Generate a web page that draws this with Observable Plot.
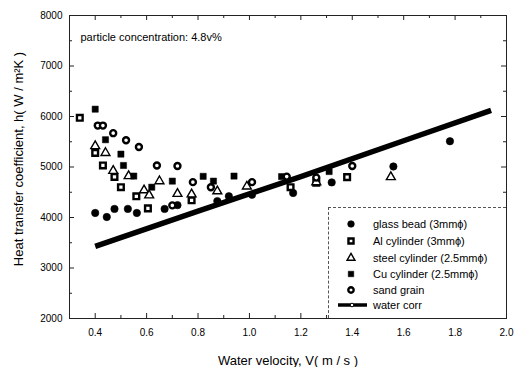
<!DOCTYPE html>
<html><head><meta charset="utf-8">
<script src="https://cdn.jsdelivr.net/npm/d3@7"></script>
<script src="https://cdn.jsdelivr.net/npm/@observablehq/plot@0.6"></script>
<style>
body{margin:0;background:#fff;}
#wrap{position:relative;width:514px;height:367px;font-family:"Liberation Sans",Arial,sans-serif;}
#legend{position:absolute;left:328px;top:207px;width:178px;height:111px;border-top:1px dashed #555;border-left:1px dashed #555;box-sizing:border-box;background:#fff;}
</style></head><body><div id="wrap"><div id="chart"></div><div id="legend"></div></div>
<script>
// ---- data ----
const glassV = [0.40, 0.445, 0.475, 0.527, 0.562, 0.67, 0.72, 0.875, 0.92, 1.01, 1.17, 1.32, 1.56, 1.78];
const glassH = [4090, 4010, 4170, 4170, 4090, 4170, 4245, 4325, 4420, 4450, 4485, 4695, 5010, 5510];
const alV = [0.34, 0.40, 0.43, 0.475, 0.50, 0.56, 0.605, 0.775, 1.16, 1.26, 1.38];
const alH = [5975, 5280, 5030, 4805, 4600, 4420, 4180, 4340, 4600, 4690, 4800];
const steelV = [0.40, 0.44, 0.47, 0.53, 0.59, 0.61, 0.65, 0.72, 0.775, 0.875, 0.99, 1.26, 1.55];
const steelH = [5415, 5280, 4925, 4820, 4540, 4440, 4720, 4470, 4460, 4520, 4615, 4700, 4800];
const cuV = [0.40, 0.44, 0.50, 0.51, 0.55, 0.62, 0.70, 0.82, 0.86, 0.94, 1.125, 1.31];
const cuH = [6145, 5540, 5255, 5030, 4820, 4600, 4720, 4815, 4720, 4820, 4810, 4910];
const sandV = [0.41, 0.43, 0.47, 0.52, 0.57, 0.64, 0.72, 0.70, 0.78, 0.85, 1.01, 1.145, 1.26, 1.40];
const sandH = [5820, 5820, 5670, 5530, 5395, 5030, 5020, 4240, 4700, 4600, 4700, 4810, 4790, 5020];
const waterV = [0.40, 0.80, 1.20, 1.60, 1.94];
const waterH = [3430, 4125, 4810, 5520, 6120];

const seriesNames = ["glass bead (3mm\u03d5)", "Al cylinder (3mm\u03d5)", "steel cylinder (2.5mm\u03d5)", "Cu cylinder (2.5mm\u03d5)", "sand grain", "water corr"];
const xTicks = [0.4, 0.6, 0.8, 1.0, 1.2, 1.4, 1.6, 1.8, 2.0];
const xMinor = [0.3, 0.5, 0.7, 0.9, 1.1, 1.3, 1.5, 1.7, 1.9];
const yTicks = [2000, 3000, 4000, 5000, 6000, 7000, 8000];
const yMinor = [2500, 3500, 4500, 5500, 6500, 7500];
const annotation = "particle concentration: 4.8v%";
const xLabel = "Water velocity, V( m / s )";
const yLabel = "Heat transfer coefficient, h( W / m\u00b2K )";

// ---- styles ----
const styles = [
  {symbol: "circle", fill: "black", stroke: "black", r: 3.7, sw: 0.6},
  {symbol: "square", fill: "white", stroke: "black", r: 3.2, sw: 2.4},
  {symbol: "triangle", fill: "white", stroke: "black", r: 3.3, sw: 1.4},
  {symbol: "square", fill: "black", stroke: "black", r: 3.5, sw: 0.5},
  {symbol: "circle", fill: "white", stroke: "black", r: 3.0, sw: 2.4}
];
const pairs = [[glassV, glassH], [alV, alH], [steelV, steelH], [cuV, cuH], [sandV, sandH]];
const tables = pairs.map(([v, h]) => v.map((x, i) => ({v: x, h: h[i]})));
const water = waterV.map((x, i) => ({v: x, h: waterH[i]}));

const W = 514, H = 367, mL = 69, mR = 8, mT = 15, mB = 49;
const fw = W - mL - mR, fh = H - mT - mB;

const marks = [
  Plot.frame({stroke: "#222", strokeWidth: 1}),
  // inward ticks
  Plot.tickX(xTicks, {x: d => d, insetTop: fh - 5, stroke: "#222"}),
  Plot.tickX(xTicks, {x: d => d, insetBottom: fh - 5, stroke: "#222"}),
  Plot.tickX(xMinor, {x: d => d, insetTop: fh - 3, stroke: "#222"}),
  Plot.tickX(xMinor, {x: d => d, insetBottom: fh - 3, stroke: "#222"}),
  Plot.tickY(yTicks, {y: d => d, insetRight: fw - 5, stroke: "#222"}),
  Plot.tickY(yTicks, {y: d => d, insetLeft: fw - 5, stroke: "#222"}),
  Plot.tickY(yMinor, {y: d => d, insetRight: fw - 3, stroke: "#222"}),
  Plot.tickY(yMinor, {y: d => d, insetLeft: fw - 3, stroke: "#222"}),
  Plot.axisX(xTicks, {tickSize: 0, tickPadding: 10, tickFormat: d => d.toFixed(1), fontSize: 10, label: null}),
  Plot.axisY(yTicks, {tickSize: 0, tickPadding: 7, tickFormat: d => String(d), fontSize: 10, label: null}),
  Plot.line(water, {x: "v", y: "h", stroke: "black", strokeWidth: 5.5, strokeLinecap: "butt"}),
  ...tables.map((t, i) => Plot.dot(t, {x: "v", y: "h", symbol: styles[i].symbol, fill: styles[i].fill, stroke: styles[i].stroke, r: styles[i].r, strokeWidth: styles[i].sw})),
  Plot.text([annotation], {frameAnchor: "top-left", dx: 11, dy: 22, lineAnchor: "middle", textAnchor: "start", fontSize: 11}),
  Plot.text([xLabel], {frameAnchor: "bottom", dy: 42, lineAnchor: "middle", fontSize: 13}),
  Plot.text([yLabel], {frameAnchor: "left", dx: -51, dy: -8, rotate: -90, textAnchor: "middle", lineAnchor: "middle", fontSize: 13})
];

const chart = Plot.plot({
  width: W, height: H,
  marginLeft: mL, marginRight: mR, marginTop: mT, marginBottom: mB,
  style: {fontFamily: '"Liberation Sans", Arial, sans-serif', color: "black", background: "white"},
  x: {domain: [0.3, 2.0]},
  y: {domain: [2000, 8000]},
  marks
});
document.getElementById("chart").appendChild(chart);

// ---- legend ----
const lg = d3.select("#legend").append("svg").attr("width", 178).attr("height", 111)
  .style("font-family", '"Liberation Sans", Arial, sans-serif').style("font-size", "11px");
const rows = [16, 33, 50, 66, 82, 97];
seriesNames.forEach((name, i) => {
  const g = lg.append("g").attr("transform", `translate(0,${rows[i]})`);
  if (i < 5) {
    const s = styles[i];
    const sym = s.symbol === "circle" ? d3.symbolCircle : s.symbol === "square" ? d3.symbolSquare : d3.symbolTriangle;
    g.append("path").attr("d", d3.symbol(sym, Math.PI * s.r * s.r * 0.8)()).attr("transform", "translate(22,0)")
      .attr("fill", s.fill).attr("stroke", s.stroke).attr("stroke-width", s.sw);
  } else {
    g.append("line").attr("x1", 9).attr("x2", 38).attr("y1", 0).attr("y2", 0).attr("stroke", "black").attr("stroke-width", 3.5);
    g.append("circle").attr("cx", 23).attr("cy", 0).attr("r", 1.8).attr("fill", "white").attr("stroke", "black").attr("stroke-width", 1);
  }
  g.append("text").attr("x", 44).attr("y", 0).attr("dy", "0.35em").text(name);
});
</script></body></html>
